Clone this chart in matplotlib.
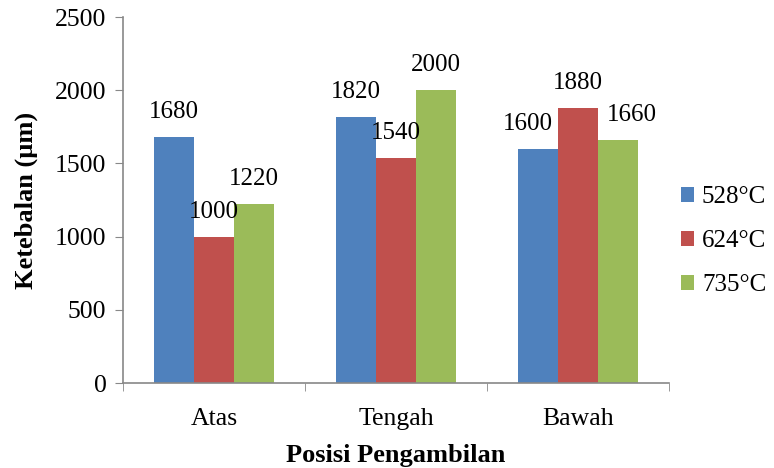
import matplotlib
matplotlib.use("Agg")
import matplotlib.pyplot as plt
import numpy as np

categories = ["Atas", "Tengah", "Bawah"]
series_names = ["528°C", "624°C", "735°C"]
s528 = [1680, 1820, 1600]
s624 = [1000, 1540, 1880]
s735 = [1220, 2000, 1660]
colors = ["#4F81BD", "#C0504D", "#9BBB59"]

# label nudges (points) to avoid overlap, as in the reference layout
label_nudge = {(2, 0): -7, (2, 2): 10}

plt.rcParams['font.family'] = ['Liberation Serif', 'DejaVu Serif']
fig = plt.figure(figsize=(7.74, 4.68), dpi=100)
ax = fig.add_axes([0.159, 0.1816, 0.705, 0.782])

x = np.arange(len(categories))
w = 0.22
for i, (vals, name, c) in enumerate(zip([s528, s624, s735], series_names, colors)):
    pos = x + (i - 1) * w
    ax.bar(pos, vals, w, color=c, label=name)
    for j, (p, v) in enumerate(zip(pos, vals)):
        dx = label_nudge.get((j, i), 0)
        ax.annotate(str(v), (p, v), xytext=(dx, 18), textcoords='offset points',
                    ha='center', va='center', fontsize=18)

ax.set_xlim(-0.5, 2.5)
ax.set_ylim(0, 2500)
ax.set_yticks(range(0, 2501, 500))
ax.set_xticks(x)
ax.set_xticklabels(categories)
ax.set_xticks([-0.5, 0.5, 1.5, 2.5], minor=True)
ax.tick_params(axis='x', which='major', length=0, pad=18, labelsize=18.5)
ax.tick_params(axis='x', which='minor', length=6, color='#888888', direction='out')
ax.tick_params(axis='y', length=6, color='#888888', labelsize=18.5, direction='out', pad=6)
for s in ['top', 'right']:
    ax.spines[s].set_visible(False)
for s in ['left', 'bottom']:
    ax.spines[s].set_color('#888888')
    ax.spines[s].set_linewidth(1.2)

ax.set_ylabel("Ketebalan (µm)", fontsize=19, fontweight='bold', labelpad=10)
ax.set_xlabel("Posisi Pengambilan", fontsize=19, fontweight='bold', labelpad=10)
ax.yaxis.set_label_coords(-0.155, 0.5)

ax.legend(loc='center left', bbox_to_anchor=(1.022, 0.388), frameon=False, fontsize=18,
          handlelength=0.55, handleheight=0.55, handletextpad=0.3, labelspacing=0.88,
          borderpad=0, borderaxespad=0)

fig.savefig("out.png", dpi=100)
